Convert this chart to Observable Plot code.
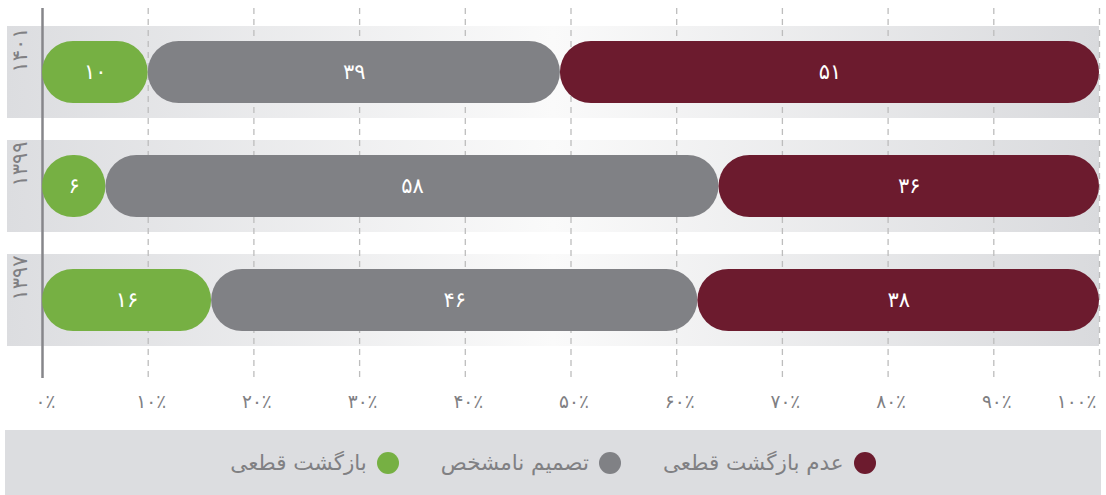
<!DOCTYPE html>
<html><head><meta charset="utf-8">
<script src="https://cdn.jsdelivr.net/npm/d3@7"></script>
<script src="https://cdn.jsdelivr.net/npm/@observablehq/plot@0.6"></script>
<style>
body{margin:0;background:#fff;font-family:"DejaVu Sans",sans-serif;}
#chart svg{display:block;}
#legend{margin:0 5px;height:65px;background:#dcdde0;display:flex;direction:rtl;justify-content:center;align-items:center;gap:42px;}
.item{display:flex;align-items:center;gap:10px;color:#808083;font-size:21.5px;}
.dot{width:22px;height:22px;border-radius:50%;display:inline-block;}
</style></head><body>
<div id="chart"></div><div id="legend"></div>
<script>
const years = ["۱۴۰۱", "۱۳۹۹", "۱۳۹۷"];
const categories = ["بازگشت قطعی", "تصمیم نامشخص", "عدم بازگشت قطعی"];
const colors = ["#76b043", "#808185", "#6c1b2e"];
const definiteReturn = [10, 6, 16];
const undecided = [39, 58, 46];
const noReturn = [51, 36, 38];
const xTicks = [0, 10, 20, 30, 40, 50, 60, 70, 80, 90, 100];
const xTickLabels = ["۰٪", "۱۰٪", "۲۰٪", "۳۰٪", "۴۰٪", "۵۰٪", "۶۰٪", "۷۰٪", "۸۰٪", "۹۰٪", "۱۰۰٪"];
const legendOrder = ["عدم بازگشت قطعی", "تصمیم نامشخص", "بازگشت قطعی"];

const series = [definiteReturn, undecided, noReturn];
const rows = years.flatMap((y, i) => categories.map((c, j) => ({year: y, cat: c, value: series[j][i]})));
const faDigits = "۰۱۲۳۴۵۶۷۸۹";
const toFa = n => String(n).replace(/\d/g, d => faDigits[+d]);
const ticks = xTicks.map((t, i) => ({t, label: xTickLabels[i]}));

const gradientDefs = () => {
  const defs = d3.create("svg:defs");
  const g = defs.append("linearGradient").attr("id", "bandGrad");
  g.append("stop").attr("offset", "0").attr("stop-color", "#dcdde0");
  g.append("stop").attr("offset", "0.5").attr("stop-color", "#fafafa");
  g.append("stop").attr("offset", "1").attr("stop-color", "#d9dadd");
  return defs.node();
};

const plot = Plot.plot({
  width: 1106, height: 430,
  marginLeft: 42, marginRight: 7, marginTop: 8, marginBottom: 52,
  x: {domain: [0, 100], axis: null},
  y: {domain: years, range: [26, 346], paddingInner: 0.193, paddingOuter: 0, axis: null},
  color: {domain: categories, range: colors},
  style: {fontFamily: "'DejaVu Sans', sans-serif", background: "transparent"},
  marks: [
    gradientDefs,
    Plot.barX(years, {y: d => d, x1: () => 0, x2: () => 100, insetLeft: -35, fill: "url(#bandGrad)"}),
    Plot.ruleX(xTicks.filter(t => t > 0), {stroke: "#bdbdbd", strokeWidth: 1.3, strokeDasharray: "6,5"}),
    Plot.ruleX([0], {stroke: "#86868a", strokeWidth: 2.5}),
    Plot.barX(rows, {x: "value", y: "year", fill: "cat", rx: 31, insetTop: 15, insetBottom: 15}),
    Plot.text(rows, Plot.stackX({x: "value", y: "year", text: d => toFa(d.value), fill: "white", fontSize: 21, fontWeight: 500})),
    Plot.text(years, {y: d => d, frameAnchor: "left", dx: -22, rotate: -90, fill: "#808083", fontSize: 21}),
    Plot.text(ticks.filter(d => d.t < 100), {x: "t", text: "label", frameAnchor: "bottom", dy: 29, dx: 3, fill: "#808083", fontSize: 18.5}),
    Plot.text(ticks.filter(d => d.t === 100), {x: "t", text: "label", frameAnchor: "bottom", dy: 29, dx: -3, textAnchor: "end", fill: "#808083", fontSize: 18.5})
  ]
});
document.getElementById("chart").append(plot);

const legend = d3.select("#legend");
legendOrder.forEach(c => {
  const it = legend.append("div").attr("class", "item");
  it.append("span").attr("class", "dot").style("background", colors[categories.indexOf(c)]);
  it.append("span").text(c);
});
</script>
</body></html>
